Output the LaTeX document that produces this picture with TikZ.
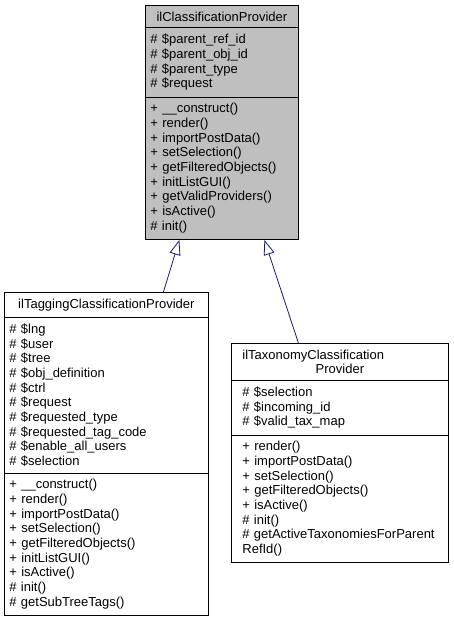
\documentclass[tikz,border=0pt]{standalone}
\usepackage{fontspec}
\setmainfont{Liberation Sans}
\usetikzlibrary{shapes.multipart,arrows.meta}
\definecolor{basegray}{HTML}{BFBFBF}
\definecolor{edgeblue}{HTML}{191970}
\tikzset{
	classbox/.style={rectangle split, rectangle split parts=3, draw=black, line width=0.8pt, align=left, inner xsep=5pt, inner ysep=6pt, font=\fontsize{13}{14.7}\selectfont, anchor=north west},
	inherit/.style={draw=edgeblue, line width=0.8pt, -{Triangle[open, length=15pt, width=11pt]}}
}

\begin{document}
\begin{tikzpicture}
		\useasboundingbox (0,0) rectangle (453pt,-624pt);
		
		\node [classbox, fill=basegray, text width=143pt] (base) at (145pt,-5pt) {\makebox[\hsize]{ilClassificationProvider}
			\nodepart{two}
			\# \$parent\_ref\_id\\
			\# \$parent\_obj\_id\\
			\# \$parent\_type\\
			\# \$request
			\nodepart{three}
			+ \_\_construct()\\
			+ render()\\
			+ importPostData()\\
			+ setSelection()\\
			+ getFilteredObjects()\\
			+ initListGUI()\\
			+ getValidProviders()\\
			+ isActive()\\
			\# init()
		};
		
		\node [classbox, fill=white, text width=194pt] (tagging) at (4pt,-292pt) {\makebox[\hsize]{ilTaggingClassificationProvider}
			\nodepart{two}
			\# \$lng\\
			\# \$user\\
			\# \$tree\\
			\# \$obj\_definition\\
			\# \$ctrl\\
			\# \$request\\
			\# \$requested\_type\\
			\# \$requested\_tag\_code\\
			\# \$enable\_all\_users\\
			\# \$selection
			\nodepart{three}
			+ \_\_construct()\\
			+ render()\\
			+ importPostData()\\
			+ setSelection()\\
			+ getFilteredObjects()\\
			+ initListGUI()\\
			+ isActive()\\
			\# init()\\
			\# getSubTreeTags()
		};
		
		\node [classbox, fill=white, inner xsep=11pt, text width=195pt] (taxonomy) at (231pt,-343pt) {ilTaxonomyClassification\\
			\makebox[\hsize]{Provider}
			\nodepart{two}
			\# \$selection\\
			\# \$incoming\_id\\
			\# \$valid\_tax\_map
			\nodepart{three}
			+ render()\\
			+ importPostData()\\
			+ setSelection()\\
			+ getFilteredObjects()\\
			+ isActive()\\
			\# init()\\
			\# getActiveTaxonomiesForParent\\
			RefId()
		};
		
		\draw [inherit] ([xshift=57pt]tagging.north) -- ([xshift=-42.5pt]base.south);
		\draw [inherit] ([xshift=-41.5pt]taxonomy.north) -- ([xshift=42.5pt]base.south);
		
		\end{tikzpicture}
\end{document}
